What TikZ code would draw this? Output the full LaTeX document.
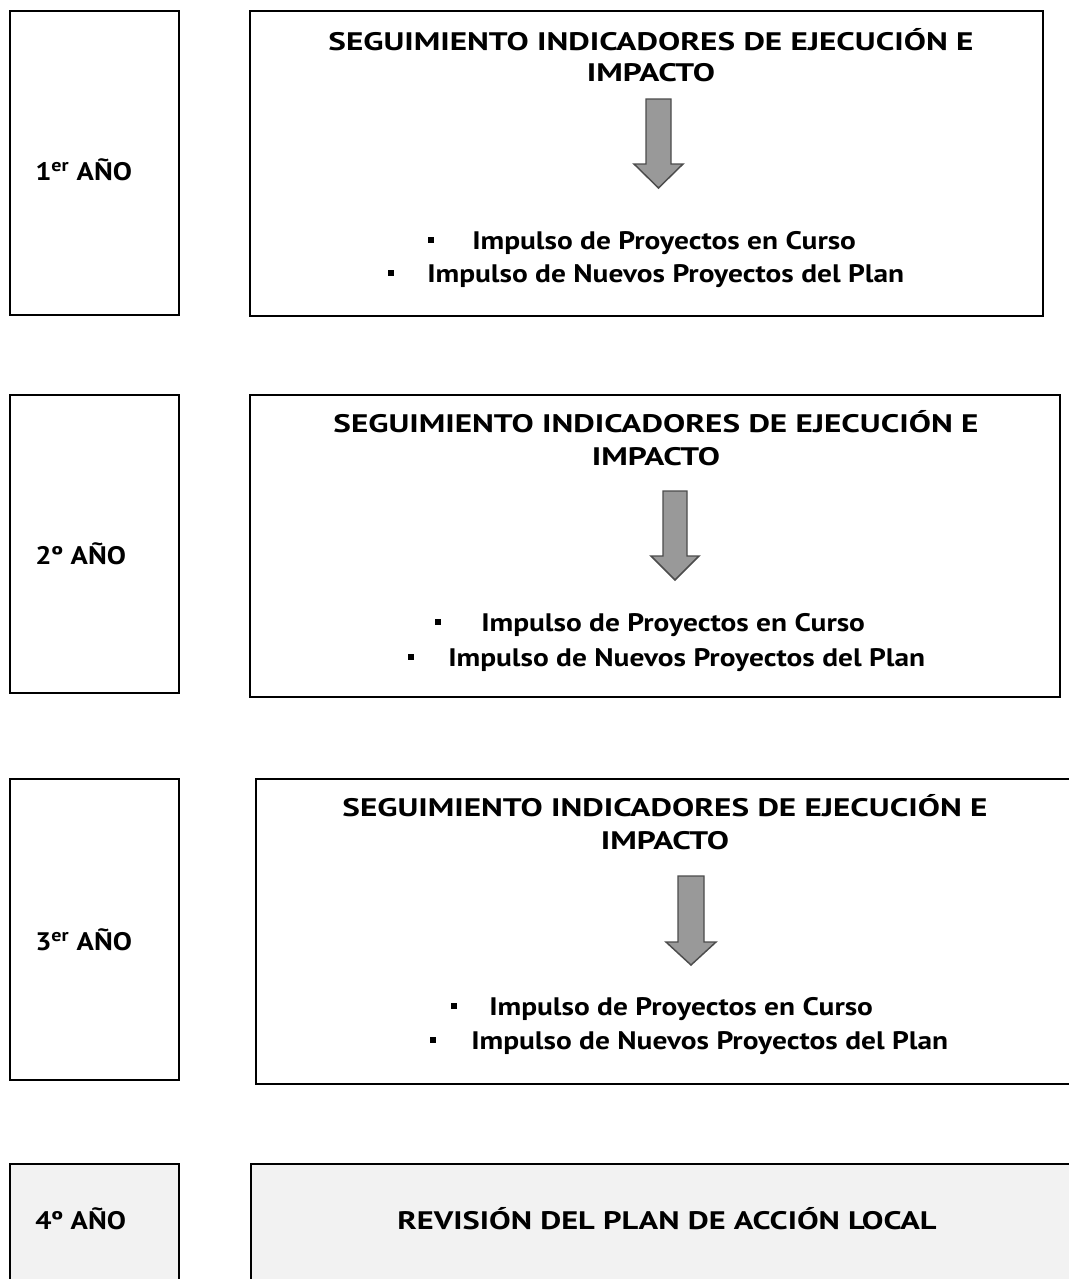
\documentclass[tikz,border=0pt]{standalone}
\usepackage{fontspec}
\setmainfont{PT Sans}
\newcommand{\hd}[1]{\scalebox{1.31}[1]{#1}}
\newcommand{\bl}[1]{\scalebox{1.16}[1]{#1}}
\newcommand{\yr}[1]{\scalebox{1.13}[1]{#1}}
\newcommand{\rv}[1]{\scalebox{1.28}[1]{#1}}
\begin{document}
\begin{tikzpicture}[x=0.75pt,y=-0.75pt,
  box/.style={draw=black,line width=1.5pt},
  thickbox/.style={draw=black,line width=2.2pt},
  txt/.style={inner sep=0pt,anchor=base,font=\bfseries\fontsize{19}{23}\selectfont},
  txtw/.style={inner sep=0pt,anchor=base west,font=\bfseries\fontsize{19}{23}\selectfont},
  bul/.style={fill=black,inner sep=0pt,minimum width=4.5pt,minimum height=5pt},
  garrow/.style={fill=black!40,draw=black!70,line width=1.1pt,line join=miter}
]
\useasboundingbox (0,0) rectangle (1069,1279);
\clip (0,0) rectangle (1069,1279);
\fill[white] (0,0) rectangle (1069,1279);

% ---------- Year 1 ----------
\draw[box] (10,11) rectangle (179,315);
\draw[box] (250,11) rectangle (1043,316);
\node[txtw] (y1) at (35,180) {\yr{1\textsuperscript{er} AÑO}};
\node[txt] (h1a) at (651,50) {\hd{SEGUIMIENTO INDICADORES DE EJECUCIÓN E}};
\node[txt] (h1b) at (651,81) {\hd{IMPACTO}};
\draw[garrow] (646,99) -- (671,99) -- (671,164) -- (683,164) -- (658.5,188) -- (634,164) -- (646,164) -- cycle;
\node[bul] (b1a) at (431,240) {};
\node[txtw] (p1a) at (472,249) {\bl{Impulso de Proyectos en Curso}};
\node[bul] (b1b) at (391,273) {};
\node[txtw] (p1b) at (427,282) {\bl{Impulso de Nuevos Proyectos del Plan}};

% ---------- Year 2 ----------
\draw[box] (10,395) rectangle (179,693);
\draw[box] (250,395) rectangle (1060,697);
\node[txtw] (y2) at (35,564) {\yr{2º AÑO}};
\node[txt] (h2a) at (656,432) {\hd{SEGUIMIENTO INDICADORES DE EJECUCIÓN E}};
\node[txt] (h2b) at (656,465) {\hd{IMPACTO}};
\draw[garrow] (663,491) -- (687,491) -- (687,556) -- (699,556) -- (675,580) -- (651,556) -- (663,556) -- cycle;
\node[bul] (b2a) at (438,622) {};
\node[txtw] (p2a) at (481,631) {\bl{Impulso de Proyectos en Curso}};
\node[bul] (b2b) at (411,657) {};
\node[txtw] (p2b) at (448,666) {\bl{Impulso de Nuevos Proyectos del Plan}};

% ---------- Year 3 ----------
\draw[box] (10,779) rectangle (179,1080);
\draw[box] (256,779) rectangle (1075,1084);
\node[txtw] (y3) at (35,950) {\yr{3\textsuperscript{er} AÑO}};
\node[txt] (h3a) at (665,816) {\hd{SEGUIMIENTO INDICADORES DE EJECUCIÓN E}};
\node[txt] (h3b) at (665,849) {\hd{IMPACTO}};
\draw[garrow] (678,876) -- (704,876) -- (704,942) -- (716,942) -- (691,965) -- (666,942) -- (678,942) -- cycle;
\node[bul] (b3a) at (454,1006) {};
\node[txtw] (p3a) at (489,1015) {\bl{Impulso de Proyectos en Curso}};
\node[bul] (b3b) at (433,1040) {};
\node[txtw] (p3b) at (471,1049) {\bl{Impulso de Nuevos Proyectos del Plan}};

% ---------- Year 4 ----------
\draw[box,fill={rgb,255:red,242;green,242;blue,242}] (10,1164) rectangle (179,1290);
\draw[thickbox,fill={rgb,255:red,242;green,242;blue,242}] (251,1164) rectangle (1075,1290);
\node[txtw] (y4) at (35,1229) {\yr{4º AÑO}};
\node[txt] (r4) at (667,1229) {\rv{REVISIÓN DEL PLAN DE ACCIÓN LOCAL}};
\end{tikzpicture}
\end{document}
